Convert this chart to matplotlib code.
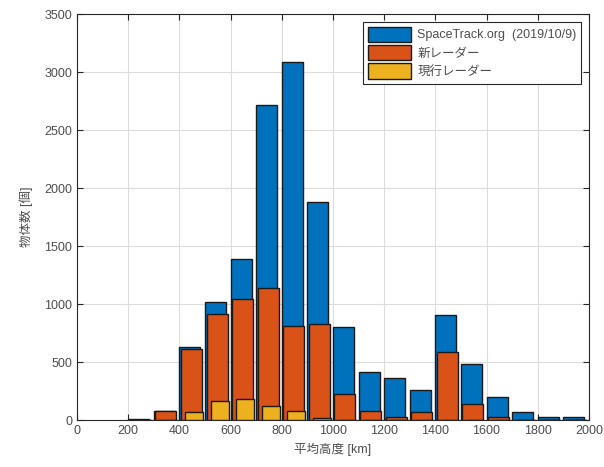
import numpy as np
import matplotlib.pyplot as plt

plt.rcParams['font.family'] = ['Liberation Sans', 'Noto Sans CJK JP']

# bin left edges (km), 100 km wide bins
bins = np.arange(200, 2000, 100)
spacetrack = [12, 80, 630, 1015, 1385, 2718, 3090, 1880, 800, 410, 360, 262, 904, 482, 195, 73, 29, 23]
new_radar = [0, 79, 612, 912, 1044, 1140, 810, 831, 220, 79, 30, 67, 590, 137, 23, 0, 0, 0]
cur_radar = [0, 0, 73, 160, 180, 117, 79, 15, 0, 0, 0, 0, 0, 0, 0, 0, 0, 0]

labels = ['SpaceTrack.org  (2019/10/9)', '新レーダー', '現行レーダー']
colors = ['#0072BD', '#D95319', '#EDB120']

fig = plt.figure(figsize=(6.04, 4.67), dpi=100)
ax = fig.add_axes([0.1275, 0.1006, 0.8475, 0.8694])

ax.bar(bins, spacetrack, width=82, align='edge', color=colors[0],
       edgecolor='#1a1a1a', linewidth=1.0, label=labels[0], zorder=2)
ax.bar(bins + 6, new_radar, width=82, align='edge', color=colors[1],
       edgecolor='#1a1a1a', linewidth=1.0, label=labels[1], zorder=3)
ax.bar(bins + 22, cur_radar, width=70, align='edge', color=colors[2],
       edgecolor='#1a1a1a', linewidth=1.0, label=labels[2], zorder=4)

ax.set_xlim(0, 2000)
ax.set_ylim(0, 3500)
ax.set_xticks(np.arange(0, 2001, 200))
ax.set_yticks(np.arange(0, 3501, 500))
ax.grid(True, color='#dcdcdc', linewidth=0.8, zorder=0)
ax.set_axisbelow(True)
ax.tick_params(direction='in', top=True, right=True, labelsize=9,
               colors='#262626', labelcolor='#4d4d4d', length=4)
for s in ax.spines.values():
    s.set_color('#262626')
    s.set_linewidth(0.8)

ax.set_xlabel('平均高度 [km]', fontsize=9, color='#4d4d4d')
ax.set_ylabel('物体数 [個]', fontsize=9, color='#4d4d4d', labelpad=8)

leg = ax.legend(loc='upper right', fontsize=9, handlelength=3.4,
                handleheight=1.5, labelspacing=0.25, borderpad=0.4,
                handletextpad=0.5, fancybox=False, edgecolor='#262626',
                framealpha=1, borderaxespad=0.6)
leg.get_frame().set_linewidth(0.8)
for t in leg.get_texts():
    t.set_color('#4d4d4d')

fig.savefig('out.png', dpi=100)
